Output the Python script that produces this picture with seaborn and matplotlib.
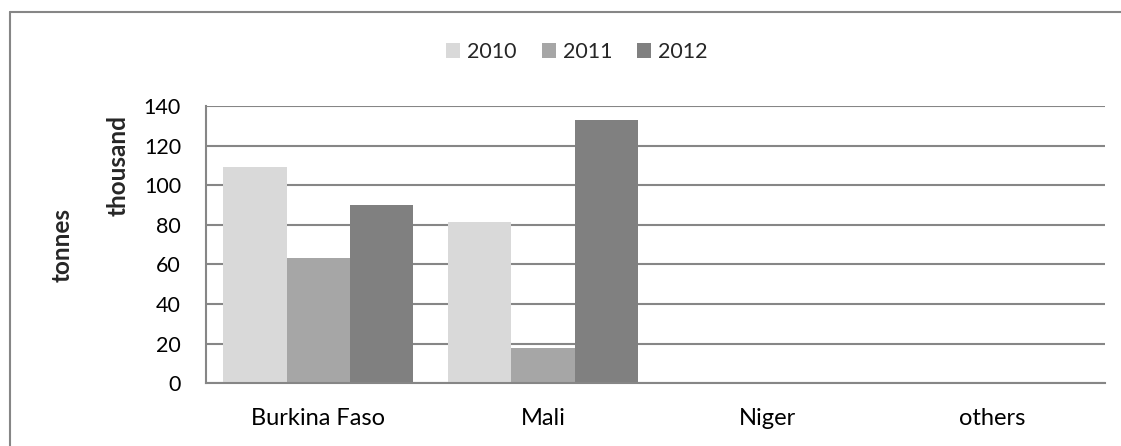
import matplotlib
matplotlib.use("Agg")
import matplotlib.pyplot as plt
from matplotlib.lines import Line2D
import seaborn as sns
import pandas as pd

countries = ["Burkina Faso", "Mali", "Niger", "others"]
years = ["2010", "2011", "2012"]
values_2010 = [109, 81.5, 0, 0]
values_2011 = [63.5, 18, 0, 0]
values_2012 = [90, 133, 0, 0]
yticks = [0, 20, 40, 60, 80, 100, 120, 140]
colors = ["#d9d9d9", "#a6a6a6", "#808080"]

rows = []
for year, vals in zip(years, [values_2010, values_2011, values_2012]):
    for c, v in zip(countries, vals):
        rows.append({"country": c, "year": year, "value": v})
df = pd.DataFrame(rows)

sns.set_theme(style="white")
plt.rcParams["font.family"] = ["Lato", "DejaVu Sans"]

W, H = 1121, 446
fig = plt.figure(figsize=(W / 100, H / 100), dpi=100)
ax = fig.add_axes([206 / W, 1 - 383.3 / H, (1105 - 206) / W, (383.3 - 106) / H])

sns.barplot(data=df, x="country", y="value", hue="year", order=countries,
            hue_order=years, palette=colors, width=0.846, linewidth=0,
            saturation=1, ax=ax, zorder=3)

grid_c = "#868686"
ax.set_ylim(0, 140)
ax.set_yticks(yticks)
ax.set_yticklabels([str(t) for t in yticks])
ax.yaxis.grid(True, color=grid_c, linewidth=1.5, zorder=0)
ax.set_axisbelow(True)
for s in ["top", "right"]:
    ax.spines[s].set_visible(False)
for s in ["left", "bottom"]:
    ax.spines[s].set_color(grid_c)
    ax.spines[s].set_linewidth(1.5)
    ax.spines[s].set_zorder(4)
ax.tick_params(axis="y", length=0, pad=18, labelsize=15.5, labelcolor="black")
ax.tick_params(axis="x", length=0, pad=18, labelsize=17, labelcolor="black")
ax.set_xlabel("")
ax.set_ylabel("")

fig.text(62 / W, 1 - 245 / H, "tonnes", rotation=90, ha="center", va="center",
         fontsize=17.5, fontweight="bold")
fig.text(118 / W, 1 - 166 / H, "thousand", rotation=90, ha="center", va="center",
         fontsize=17.5, fontweight="bold")

handles, labels = ax.get_legend_handles_labels()
if ax.legend_ is not None:
    ax.legend_.remove()
fig.legend(handles, labels, loc="center", bbox_to_anchor=(577 / W, 1 - 52 / H),
           ncol=3, frameon=False, fontsize=15.5, handlelength=0.65, handleheight=0.65,
           handletextpad=0.33, columnspacing=1.15)

# chart frame: left and top edges
x0, y0 = 9.5 / W, 1 - 12 / H
fig.add_artist(Line2D([x0, x0], [0, y0], transform=fig.transFigure,
                      color=grid_c, linewidth=1.5))
fig.add_artist(Line2D([x0, 1], [y0, y0], transform=fig.transFigure,
                      color=grid_c, linewidth=1.5))

fig.savefig("out.png", dpi=100, facecolor="white")
